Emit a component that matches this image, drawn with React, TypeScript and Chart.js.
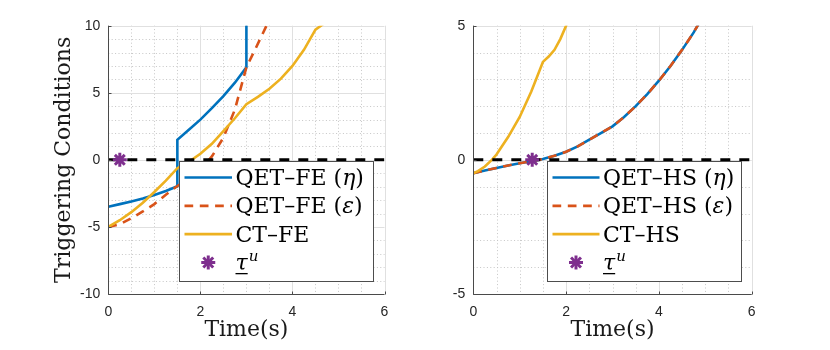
import React, { useEffect, useRef } from 'react';
import { Chart, registerables } from 'chart.js';

Chart.register(...registerables);

// ---------------- data ----------------
// Left panel (FE)
const feEtaT = [0, 0.25, 0.5, 0.75, 1, 1.25, 1.5, 1.5, 1.75, 2, 2.25, 2.5, 2.75, 3, 3];
const feEtaV = [-3.5, -3.3, -3.1, -2.88, -2.62, -2.32, -1.97, 1.5, 2.25, 3.0, 3.85, 4.75, 5.75, 6.9, 12];

const feEpsT = [0, 0.25, 0.5, 0.75, 1, 1.25, 1.5, 1.75, 2, 2.25, 2.5, 2.75, 3, 3.2, 3.45];
const feEpsV = [-5, -4.8, -4.35, -3.85, -3.3, -2.6, -1.95, -1.4, -0.7, 0.25, 1.65, 3.75, 6.9, 8.3, 10.1];

const feCtT = [0, 0.25, 0.5, 0.75, 1, 1.25, 1.5, 1.75, 2, 2.25, 2.5, 2.75, 3, 3.25, 3.5, 3.75, 4, 4.25, 4.5, 4.7];
const feCtV = [-5, -4.5, -3.9, -3.2, -2.4, -1.55, -0.62, -0.15, 0.45, 1.2, 2.15, 3.1, 4.15, 4.7, 5.3, 6.05, 7.0, 8.2, 9.7, 10.2];

const feTauT = [0.25];
const feTauV = [0];

// Right panel (HS)
const hsT = [0, 0.25, 0.5, 0.75, 1, 1.25, 1.5, 1.75, 2, 2.25, 2.5, 2.75, 3, 3.25, 3.5, 3.75, 4, 4.25, 4.5, 4.75, 5];
const hsEtaV = [-0.5, -0.4, -0.3, -0.21, -0.13, -0.05, 0.03, 0.15, 0.3, 0.5, 0.75, 1.0, 1.25, 1.6, 2.0, 2.45, 2.95, 3.5, 4.1, 4.75, 5.5];
const hsEpsV = [-0.5, -0.4, -0.3, -0.21, -0.13, -0.05, 0.03, 0.15, 0.3, 0.5, 0.75, 1.0, 1.25, 1.6, 2.0, 2.45, 2.95, 3.5, 4.1, 4.75, 5.5];

const hsCtT = [0, 0.1, 0.25, 0.4, 0.5, 0.75, 1, 1.25, 1.5, 1.625, 1.75, 1.875, 2, 2.05];
const hsCtV = [-0.5, -0.42, -0.25, 0, 0.2, 0.85, 1.6, 2.55, 3.65, 3.85, 4.1, 4.5, 5.0, 5.2];

const hsTauT = [1.27];
const hsTauV = [0];

const zeroT = [0, 6];
const zeroV = [0, 0];

const xRange = [0, 6];
const feYRange = [-10, 10];
const hsYRange = [-5, 5];

// ---------------- styles ----------------
const BLUE = '#0072BD';
const RED = '#D95319';
const YELLOW = '#EDB120';
const PURPLE = '#7E2F8E';
const SERIF = '"DejaVu Serif", serif';
const SANS = '"Liberation Sans", Arial, sans-serif';
const AXIS = '#4a4a4a';
const STAR_R = 7;
const STAR_W = 3;

const pts = (t: number[], v: number[]) => t.map((x, i) => ({ x, y: v[i] }));

type Piece = { t: string; it?: boolean; sup?: boolean; under?: boolean };
type LegendItem = { kind: 'line' | 'marker'; color: string; dash?: number[]; pieces: Piece[] };

function strokeLine(ctx: CanvasRenderingContext2D, x1: number, y1: number, x2: number, y2: number) {
  ctx.beginPath();
  ctx.moveTo(x1, y1);
  ctx.lineTo(x2, y2);
  ctx.stroke();
}

function drawStar(ctx: CanvasRenderingContext2D, x: number, y: number, r: number, color: string) {
  ctx.save();
  ctx.strokeStyle = color;
  ctx.lineWidth = STAR_W;
  ctx.setLineDash([]);
  for (let k = 0; k < 4; k++) {
    const a = (k * Math.PI) / 4;
    strokeLine(ctx, x - r * Math.cos(a), y - r * Math.sin(a), x + r * Math.cos(a), y + r * Math.sin(a));
  }
  ctx.restore();
}

const isMult = (v: number, step: number) => Math.abs(v / step - Math.round(v / step)) < 1e-6;

function makePlugin(cfg: {
  xMajor: number; xMinor: number; yMajor: number; yMinor: number;
  box: { left: number; top: number; width: number; height: number };
  sampleStart: number; sampleEnd: number; textX: number;
  items: LegendItem[];
}) {
  return {
    id: 'matlabLook',
    beforeDatasetsDraw(chart: any) {
      const { ctx, chartArea: a } = chart;
      const xs = chart.scales.x;
      const ys = chart.scales.y;
      ctx.save();
      ctx.lineWidth = 1;
      // minor grid (dotted)
      ctx.strokeStyle = '#c6c6c6';
      ctx.setLineDash([1, 2.4]);
      for (let v = xs.min; v <= xs.max + 1e-9; v += cfg.xMinor) {
        if (isMult(v, cfg.xMajor)) continue;
        const px = Math.round(xs.getPixelForValue(v)) + 0.5;
        strokeLine(ctx, px, a.top, px, a.bottom);
      }
      for (let v = ys.min; v <= ys.max + 1e-9; v += cfg.yMinor) {
        if (isMult(v, cfg.yMajor)) continue;
        const py = Math.round(ys.getPixelForValue(v)) + 0.5;
        strokeLine(ctx, a.left, py, a.right, py);
      }
      // major grid (solid)
      ctx.setLineDash([]);
      ctx.strokeStyle = '#e0e0e0';
      for (let v = xs.min; v <= xs.max + 1e-9; v += cfg.xMajor) {
        const px = Math.round(xs.getPixelForValue(v)) + 0.5;
        strokeLine(ctx, px, a.top, px, a.bottom);
      }
      for (let v = ys.min; v <= ys.max + 1e-9; v += cfg.yMajor) {
        const py = Math.round(ys.getPixelForValue(v)) + 0.5;
        strokeLine(ctx, a.left, py, a.right, py);
      }
      ctx.restore();
    },
    afterDatasetsDraw(chart: any) {
      const { ctx, chartArea: a } = chart;
      const xs = chart.scales.x;
      const ys = chart.scales.y;
      ctx.save();
      // axes (box off)
      ctx.setLineDash([]);
      ctx.lineWidth = 1;
      ctx.strokeStyle = AXIS;
      const L = Math.round(a.left) + 0.5;
      const B = Math.round(a.bottom) + 0.5;
      strokeLine(ctx, L, a.top, L, B);
      strokeLine(ctx, L, B, a.right, B);
      for (let v = xs.min; v <= xs.max + 1e-9; v += cfg.xMajor) {
        const px = Math.round(xs.getPixelForValue(v)) + 0.5;
        strokeLine(ctx, px, B, px, B - 3);
      }
      for (let v = ys.min; v <= ys.max + 1e-9; v += cfg.yMajor) {
        const py = Math.round(ys.getPixelForValue(v)) + 0.5;
        strokeLine(ctx, L, py, L + 3, py);
      }
      // legend
      const bx = Math.round(a.left + cfg.box.left) + 0.5;
      const by = Math.round(a.top + cfg.box.top) + 0.5;
      const bw = Math.round(cfg.box.width);
      const bh = Math.round(cfg.box.height);
      ctx.fillStyle = '#ffffff';
      ctx.fillRect(bx, by, bw, bh);
      ctx.strokeStyle = '#4d4d4d';
      ctx.lineWidth = 1;
      ctx.strokeRect(bx, by, bw, bh);
      cfg.items.forEach((it, i) => {
        const rowY = by + 16 + i * 28.33;
        const s0 = bx + cfg.sampleStart;
        const s1 = bx + cfg.sampleEnd;
        if (it.kind === 'line') {
          ctx.save();
          ctx.strokeStyle = it.color;
          ctx.lineWidth = 2.6;
          ctx.setLineDash(it.dash || []);
          strokeLine(ctx, s0, rowY, s1, rowY);
          ctx.restore();
        } else {
          drawStar(ctx, (s0 + s1) / 2, rowY, STAR_R, it.color);
        }
        let cx = bx + cfg.textX;
        const base = rowY + 7.5;
        ctx.fillStyle = '#000';
        ctx.textAlign = 'left';
        ctx.textBaseline = 'alphabetic';
        for (const p of it.pieces) {
          const size = p.sup ? 15 : 22;
          ctx.font = `${p.it ? 'italic ' : ''}${size}px ${SERIF}`;
          const y = p.sup ? base - 9 : base;
          const x = p.sup ? cx + 1 : cx;
          ctx.fillText(p.t, x, y);
          const w = ctx.measureText(p.t).width;
          if (p.under) ctx.fillRect(cx, base + 3, w, 1.3);
          cx = x + w;
        }
      });
      ctx.restore();
    },
  };
}

type Spec = {
  datasets: any[];
  yRange: number[];
  yTitle?: string;
  padRight: number;
  yWidth: number;
  plugin: any;
};

const lineDs = (data: any[], color: string, order: number, dash?: number[], width = 2.6) => ({
  data,
  showLine: true,
  borderColor: color,
  backgroundColor: color,
  borderWidth: width,
  borderDash: dash || [],
  pointRadius: 0,
  tension: 0,
  fill: false,
  clip: 0,
  order,
});

const starDs = (data: any[], order: number) => ({
  data,
  showLine: false,
  pointStyle: 'star',
  pointRadius: STAR_R,
  pointBorderWidth: STAR_W,
  borderColor: PURPLE,
  backgroundColor: PURPLE,
  pointBorderColor: PURPLE,
  clip: false,
  order,
});

const feItems: LegendItem[] = [
  { kind: 'line', color: BLUE, pieces: [{ t: 'QET–FE (' }, { t: 'η', it: true }, { t: ')' }] },
  { kind: 'line', color: RED, dash: [8.7, 6.6], pieces: [{ t: 'QET–FE (' }, { t: 'ε', it: true }, { t: ')' }] },
  { kind: 'line', color: YELLOW, pieces: [{ t: 'CT–FE' }] },
  { kind: 'marker', color: PURPLE, pieces: [{ t: 'τ', it: true, under: true }, { t: 'u', it: true, sup: true }] },
];

const hsItems: LegendItem[] = [
  { kind: 'line', color: BLUE, pieces: [{ t: 'QET–HS (' }, { t: 'η', it: true }, { t: ')' }] },
  { kind: 'line', color: RED, dash: [8.7, 6.6], pieces: [{ t: 'QET–HS (' }, { t: 'ε', it: true }, { t: ')' }] },
  { kind: 'line', color: YELLOW, pieces: [{ t: 'CT–HS' }] },
  { kind: 'marker', color: PURPLE, pieces: [{ t: 'τ', it: true, under: true }, { t: 'u', it: true, sup: true }] },
];

const leftSpec: Spec = {
  datasets: [
    lineDs(pts(feEtaT, feEtaV), BLUE, 5),
    lineDs(pts(feEpsT, feEpsV), RED, 4, [8.7, 6.6]),
    lineDs(pts(feCtT, feCtV), YELLOW, 3),
    lineDs(pts(zeroT, zeroV), '#000000', 2, [10, 9], 3),
    starDs(pts(feTauT, feTauV), 1),
  ],
  yRange: feYRange,
  yTitle: 'Triggering Conditions',
  padRight: 30.5,
  yWidth: 108.3,
  plugin: makePlugin({
    xMajor: 2, xMinor: 0.5, yMajor: 5, yMinor: 1,
    box: { left: 70.7, top: 134.8, width: 194, height: 120 },
    sampleStart: 5, sampleEnd: 52.5, textX: 56,
    items: feItems,
  }),
};

const rightSpec: Spec = {
  datasets: [
    lineDs(pts(hsT, hsEtaV), BLUE, 5),
    lineDs(pts(hsT, hsEpsV), RED, 4, [8.7, 6.6]),
    lineDs(pts(hsCtT, hsCtV), YELLOW, 3),
    lineDs(pts(zeroT, zeroV), '#000000', 2, [10, 9], 3),
    starDs(pts(hsTauT, hsTauV), 1),
  ],
  yRange: hsYRange,
  padRight: 78.3,
  yWidth: 58.3,
  plugin: makePlugin({
    xMajor: 2, xMinor: 0.5, yMajor: 5, yMinor: 1,
    box: { left: 73.4, top: 134.8, width: 194, height: 120 },
    sampleStart: 5, sampleEnd: 52, textX: 55.5,
    items: hsItems,
  }),
};

function buildConfig(spec: Spec): any {
  const tickFont = { family: SANS, size: 14 };
  const titleFont = { family: SERIF, size: 22 };
  return {
    type: 'scatter',
    data: { datasets: spec.datasets },
    options: {
      animation: false,
      responsive: false,
      devicePixelRatio: 1,
      events: [],
      layout: { padding: { left: 0, right: spec.padRight, top: 25.7, bottom: 0 } },
      plugins: { legend: { display: false }, tooltip: { enabled: false } },
      scales: {
        x: {
          type: 'linear',
          min: xRange[0],
          max: xRange[1],
          ticks: { stepSize: 2, padding: 9.3, font: tickFont, color: '#262626', maxRotation: 0 },
          grid: { display: false, drawTicks: false, tickLength: 0 },
          border: { display: false },
          title: { display: true, text: 'Time(s)', font: titleFont, color: '#1a1a1a', padding: { top: 0, bottom: 6.5 } },
          afterFit: (s: any) => { s.height = 56; },
        },
        y: {
          type: 'linear',
          min: spec.yRange[0],
          max: spec.yRange[1],
          ticks: { stepSize: 5, padding: 8, font: tickFont, color: '#262626' },
          grid: { display: false, drawTicks: false, tickLength: 0 },
          border: { display: false },
          title: spec.yTitle
            ? { display: true, text: spec.yTitle, font: titleFont, color: '#1a1a1a', padding: { top: 50.8, bottom: 0 } }
            : { display: false },
          afterFit: (s: any) => { s.width = spec.yWidth; },
        },
      },
    },
    plugins: [spec.plugin],
  };
}

function Panel({ spec, left }: { spec: Spec; left: number }) {
  const ref = useRef<HTMLCanvasElement>(null);
  useEffect(() => {
    const chart = new Chart(ref.current as HTMLCanvasElement, buildConfig(spec));
    return () => chart.destroy();
  }, [spec]);
  return (
    <canvas
      ref={ref}
      width={415}
      height={350}
      style={{ position: 'absolute', left, top: 0, width: 415, height: 350 }}
    />
  );
}

export default function App() {
  return (
    <div style={{ position: 'fixed', left: 0, top: 0, width: 830, height: 350, background: '#ffffff' }}>
      <Panel spec={leftSpec} left={0} />
      <Panel spec={rightSpec} left={415} />
    </div>
  );
}
